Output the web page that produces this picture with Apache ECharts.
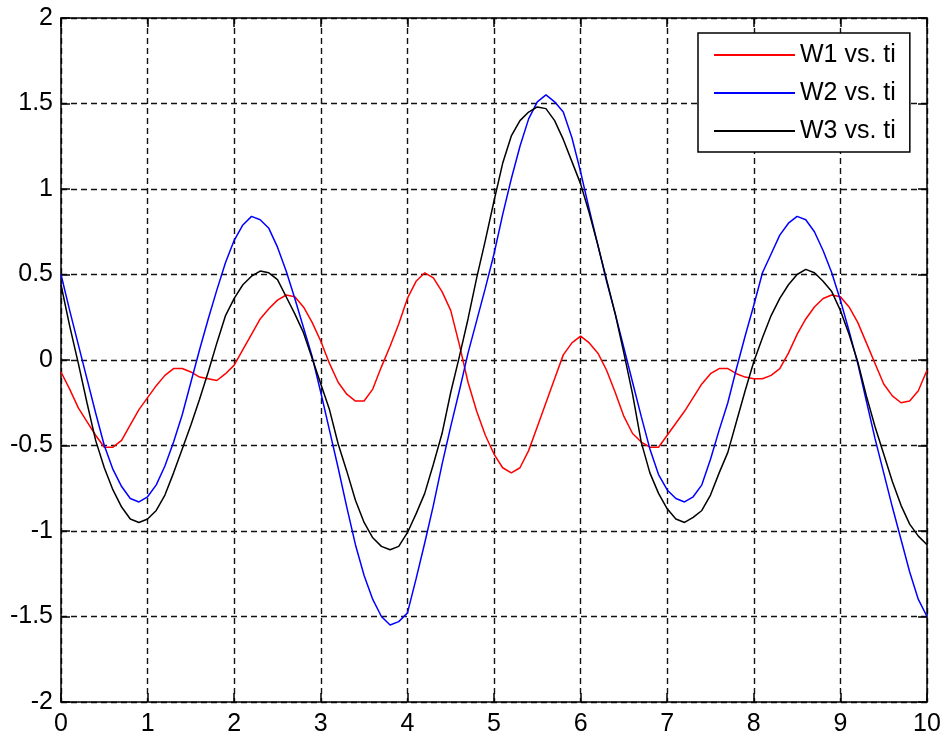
<!DOCTYPE html>
<html>
<head>
<meta charset="utf-8">
<script src="https://cdn.jsdelivr.net/npm/echarts@6/dist/echarts.min.js"></script>
<style>
  html, body { margin: 0; padding: 0; background: #fff; }
  #main { width: 944px; height: 738px; }
</style>
</head>
<body>
<div id="main"></div>
<script>
// time samples (step 0.1 from 0 to 10)
var ti = [];
for (var k = 0; k <= 100; k++) ti.push(+(k / 10).toFixed(1));

var w1 = [
  -0.07, -0.17, -0.28, -0.36, -0.44, -0.51, -0.51, -0.47, -0.38, -0.29,
  -0.22, -0.15, -0.09, -0.05, -0.05, -0.07, -0.10, -0.11, -0.12, -0.08,
  -0.03, 0.06, 0.15, 0.24, 0.30, 0.35, 0.38, 0.37, 0.31, 0.22,
  0.11, -0.02, -0.13, -0.20, -0.24, -0.24, -0.17, -0.04, 0.08, 0.21,
  0.36, 0.46, 0.51, 0.48, 0.40, 0.29, 0.09, -0.13, -0.30, -0.44,
  -0.55, -0.63, -0.66, -0.63, -0.53, -0.39, -0.25, -0.11, 0.03, 0.10,
  0.14, 0.10, 0.04, -0.06, -0.19, -0.33, -0.43, -0.48, -0.51, -0.51,
  -0.44, -0.37, -0.30, -0.22, -0.14, -0.08, -0.05, -0.05, -0.08, -0.10,
  -0.11, -0.11, -0.09, -0.05, 0.04, 0.15, 0.24, 0.31, 0.36, 0.38,
  0.37, 0.31, 0.22, 0.10, -0.02, -0.14, -0.21, -0.25, -0.24, -0.18,
  -0.06
];

var w2 = [
  0.50, 0.29, 0.09, -0.11, -0.31, -0.50, -0.64, -0.74, -0.81, -0.83,
  -0.80, -0.73, -0.62, -0.48, -0.32, -0.13, 0.06, 0.24, 0.41, 0.57,
  0.70, 0.79, 0.84, 0.82, 0.77, 0.66, 0.52, 0.36, 0.19, 0.02,
  -0.19, -0.41, -0.63, -0.86, -1.08, -1.26, -1.40, -1.50, -1.55, -1.53,
  -1.48, -1.28, -1.07, -0.85, -0.61, -0.39, -0.18, 0.04, 0.23, 0.42,
  0.62, 0.85, 1.06, 1.25, 1.41, 1.51, 1.55, 1.51, 1.45, 1.30,
  1.10, 0.88, 0.67, 0.46, 0.27, 0.07, -0.13, -0.33, -0.52, -0.67,
  -0.76, -0.81, -0.83, -0.80, -0.73, -0.58, -0.41, -0.25, -0.05, 0.14,
  0.32, 0.51, 0.62, 0.73, 0.80, 0.84, 0.82, 0.75, 0.64, 0.51,
  0.35, 0.17, -0.02, -0.24, -0.46, -0.66, -0.86, -1.05, -1.24, -1.40,
  -1.50
];

var w3 = [
  0.44, 0.20, -0.02, -0.25, -0.47, -0.63, -0.76, -0.86, -0.93, -0.95,
  -0.93, -0.88, -0.79, -0.66, -0.52, -0.38, -0.23, -0.07, 0.10, 0.26,
  0.36, 0.44, 0.49, 0.52, 0.51, 0.47, 0.37, 0.27, 0.16, 0.01,
  -0.14, -0.29, -0.49, -0.65, -0.82, -0.95, -1.04, -1.09, -1.11, -1.09,
  -1.01, -0.90, -0.78, -0.61, -0.43, -0.19, 0.02, 0.24, 0.48, 0.70,
  0.93, 1.15, 1.31, 1.40, 1.45, 1.48, 1.47, 1.40, 1.29, 1.16,
  1.03, 0.86, 0.67, 0.47, 0.27, 0.04, -0.20, -0.48, -0.66, -0.78,
  -0.87, -0.93, -0.95, -0.92, -0.88, -0.79, -0.66, -0.54, -0.36, -0.18,
  -0.01, 0.13, 0.26, 0.36, 0.44, 0.50, 0.53, 0.51, 0.46, 0.40,
  0.29, 0.15, -0.01, -0.21, -0.39, -0.55, -0.71, -0.85, -0.96, -1.03,
  -1.08
];

var seriesNames = ['W1 vs. ti', 'W2 vs. ti', 'W3 vs. ti'];
var seriesColors = ['#ff0000', '#0000ff', '#000000'];

function pairs(ys) {
  return ti.map(function (t, i) { return [t, ys[i]]; });
}

var chart = echarts.init(document.getElementById('main'));
var font = 'Liberation Sans, Arial, sans-serif';
var gridLine = { show: true, lineStyle: { color: '#111', width: 1.4, type: [6, 4] } };
var edge = { show: true, onZero: false, lineStyle: { color: '#000', width: 1.5 } };
var tick = { show: true, inside: true, length: 9, lineStyle: { color: '#000', width: 1.5 } };

var option = {
  backgroundColor: '#fff',
  animation: false,
  grid: { left: 61, right: 17, top: 18, bottom: 36 },
  legend: {
    orient: 'vertical',
    left: 698,
    top: 33,
    padding: [8, 14, 7, 16],
    icon: 'rect',
    itemWidth: 81,
    itemHeight: 2,
    itemGap: 10,
    borderColor: '#000',
    borderWidth: 1.5,
    backgroundColor: '#fff',
    textStyle: { fontFamily: font, fontSize: 25, color: '#000', lineHeight: 28 },
    data: seriesNames
  },
  xAxis: [
    {
      type: 'value', min: 0, max: 10, interval: 1, position: 'bottom',
      axisLine: edge, axisTick: tick, splitLine: gridLine,
      axisLabel: { fontFamily: font, fontSize: 25, color: '#000', margin: 10 }
    },
    {
      type: 'value', min: 0, max: 10, interval: 1, position: 'top',
      axisLine: edge, axisTick: tick, splitLine: { show: false },
      axisLabel: { show: false }
    }
  ],
  yAxis: [
    {
      type: 'value', min: -2, max: 2, interval: 0.5, position: 'left',
      axisLine: edge, axisTick: tick, splitLine: gridLine,
      axisLabel: { fontFamily: font, fontSize: 25, color: '#000', margin: 8 }
    },
    {
      type: 'value', min: -2, max: 2, interval: 0.5, position: 'right',
      axisLine: edge, axisTick: tick, splitLine: { show: false },
      axisLabel: { show: false }
    }
  ],
  series: [w1, w2, w3].map(function (ys, i) {
    return {
      name: seriesNames[i],
      type: 'line',
      data: pairs(ys),
      symbol: 'none',
      color: seriesColors[i],
      lineStyle: { color: seriesColors[i], width: 1.5 },
      z: 3 + i
    };
  })
};
chart.setOption(option);
</script>
</body>
</html>
